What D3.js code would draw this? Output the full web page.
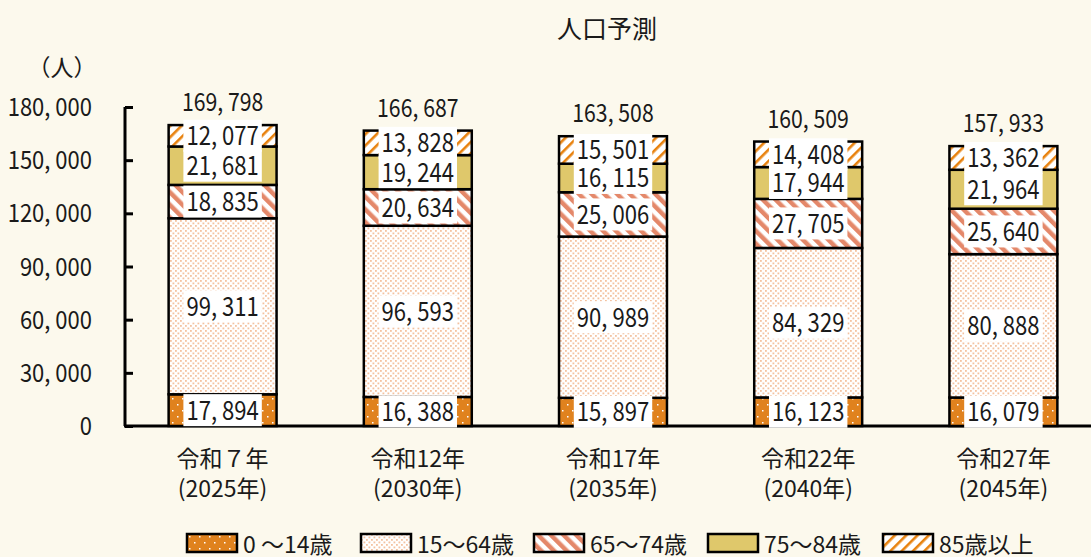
<html>
  <head>
    <meta charset="utf-8" />
    <script src="https://cdnjs.cloudflare.com/ajax/libs/d3/7.6.1/d3.min.js"></script>
    <style>
      body { margin: 0; background: #fcf9ed; }
      svg { display: block; }
      text { font-family: "Liberation Sans Narrow", "Noto Sans CJK JP", sans-serif; fill: #1a1a1a; }
    </style>
  </head>
  <body>
    <svg width="1091" height="557"></svg>
  </body>
  <script>
    // categories
    var years = ["令和７年", "令和12年", "令和17年", "令和22年", "令和27年"];
    var yearsAD = ["(2025年)", "(2030年)", "(2035年)", "(2040年)", "(2045年)"];
    var groups = ["0 ～14歳", "15～64歳", "65～74歳", "75～84歳", "85歳以上"];

    // series values (bottom to top)
    var age0_14 = [17894, 16388, 15897, 16123, 16079];
    var age15_64 = [99311, 96593, 90989, 84329, 80888];
    var age65_74 = [18835, 20634, 25006, 27705, 25640];
    var age75_84 = [21681, 19244, 16115, 17944, 21964];
    var age85 = [12077, 13828, 15501, 14408, 13362];
    var totals = [169798, 166687, 163508, 160509, 157933];

    var yTicks = [0, 30000, 60000, 90000, 120000, 150000, 180000];

    var series = [age0_14, age15_64, age65_74, age75_84, age85];
    var fills = ["url(#p0)", "url(#p1)", "url(#p2)", "#dfc86b", "url(#p4)"];

    var fmt = (v) => d3.format(",")(v).replace(/,/g, ", ");

    // squeeze numbers horizontally, the source font is very narrow
    function squeeze(sel, k) {
      sel.each(function () {
        var w = this.getComputedTextLength();
        d3.select(this).attr("textLength", w * k).attr("lengthAdjust", "spacingAndGlyphs");
      });
    }

    var svg = d3.select("svg");

    // patterns
    var defs = svg.append("defs");
    var p0 = defs.append("pattern").attr("id", "p0").attr("patternUnits", "userSpaceOnUse")
      .attr("width", 10).attr("height", 12);
    p0.append("rect").attr("width", 10).attr("height", 12).attr("fill", "#e0821e");
    p0.append("rect").attr("x", 2).attr("y", 2).attr("width", 1.5).attr("height", 1.5).attr("fill", "#fff");
    p0.append("rect").attr("x", 7).attr("y", 8).attr("width", 1.5).attr("height", 1.5).attr("fill", "#fff");

    var p1 = defs.append("pattern").attr("id", "p1").attr("patternUnits", "userSpaceOnUse")
      .attr("width", 5).attr("height", 5);
    p1.append("rect").attr("width", 5).attr("height", 5).attr("fill", "#fff");
    p1.append("rect").attr("x", 0).attr("y", 0).attr("width", 1.8).attr("height", 1.8).attr("fill", "#f4c2a0");
    p1.append("rect").attr("x", 2.5).attr("y", 2.5).attr("width", 1.8).attr("height", 1.8).attr("fill", "#f4c2a0");

    var p2 = defs.append("pattern").attr("id", "p2").attr("patternUnits", "userSpaceOnUse")
      .attr("width", 9).attr("height", 9).attr("patternTransform", "rotate(-45)");
    p2.append("rect").attr("width", 9).attr("height", 9).attr("fill", "#fff");
    p2.append("rect").attr("width", 4.5).attr("height", 9).attr("fill", "#e4886a");

    var p4 = defs.append("pattern").attr("id", "p4").attr("patternUnits", "userSpaceOnUse")
      .attr("width", 8).attr("height", 8).attr("patternTransform", "rotate(45)");
    p4.append("rect").attr("width", 8).attr("height", 8).attr("fill", "#fff");
    p4.append("rect").attr("width", 2.6).attr("height", 8).attr("fill", "#e8820e");

    var x = d3.scaleBand().domain(years).range([125, 1101])
      .paddingInner(0.447).paddingOuter(0.2235);
    var y = d3.scaleLinear().domain([0, 180000]).range([426, 107]);

    // title
    svg.append("text").attr("x", 607).attr("y", 38).attr("text-anchor", "middle")
      .style("font-size", "25px").style("font-family", "Noto Sans CJK JP").text("人口予測");
    svg.append("text").attr("x", 62).attr("y", 76).attr("text-anchor", "middle")
      .style("font-size", "23px").style("font-family", "Noto Sans CJK JP").text("（人）");

    // y axis
    var yAxis = d3.axisRight(y).tickValues(yTicks).tickSize(8).tickFormat("");
    var gy = svg.append("g").attr("transform", "translate(125,0)").call(yAxis);
    gy.select(".domain").attr("stroke", "#000").attr("stroke-width", 3).attr("d", "M0," + y(180000) + "V" + y(0));
    gy.selectAll(".tick line").attr("stroke", "#000").attr("stroke-width", 3);
    svg.append("g").selectAll("text").data(yTicks).enter().append("text")
      .attr("x", 92).attr("y", (d) => y(d)).attr("dy", "0.36em").attr("text-anchor", "end")
      .style("font-size", "25px").text(fmt).call(squeeze, 0.88);

    // x axis baseline
    svg.append("line").attr("x1", 124).attr("x2", 1091).attr("y1", y(0)).attr("y2", y(0))
      .attr("stroke", "#000").attr("stroke-width", 3);

    // stacked bars
    var rows = years.map((yr, i) => {
      var r = { year: yr };
      groups.forEach((g, j) => (r[g] = series[j][i]));
      return r;
    });
    var stack = d3.stack().keys(groups)(rows);

    var layers = svg.append("g").selectAll("g").data(stack).enter().append("g")
      .attr("fill", (d, i) => fills[i]);
    layers.selectAll("rect").data((d) => d).enter().append("rect")
      .attr("x", (d) => x(d.data.year))
      .attr("y", (d) => y(d[1]))
      .attr("width", x.bandwidth())
      .attr("height", (d) => y(d[0]) - y(d[1]))
      .attr("stroke", "#000").attr("stroke-width", 2.5);

    // value labels with white boxes
    var labels = svg.append("g");
    stack.forEach((layer) => {
      layer.forEach((d) => {
        var cx = x(d.data.year) + x.bandwidth() / 2;
        var cy = (y(d[0]) + y(d[1])) / 2;
        var g = labels.append("g");
        var t = g.append("text").attr("x", cx).attr("y", cy).attr("dy", "0.36em")
          .attr("text-anchor", "middle").style("font-size", "26px").text(fmt(d[1] - d[0]));
        t.call(squeeze, 0.85);
        var w = +t.attr("textLength");
        g.insert("rect", "text").attr("x", cx - w / 2 - 3).attr("y", cy - 16)
          .attr("width", w + 6).attr("height", 32).attr("fill", "#fff");
      });
    });

    // totals
    svg.append("g").selectAll("text").data(totals).enter().append("text")
      .attr("x", (d, i) => x(years[i]) + x.bandwidth() / 2)
      .attr("y", (d) => y(d) - 14)
      .attr("text-anchor", "middle").style("font-size", "25px").text(fmt).call(squeeze, 0.85);

    // category labels
    var xl = svg.append("g").selectAll("g").data(years).enter().append("g");
    xl.append("text").attr("x", (d) => x(d) + x.bandwidth() / 2).attr("y", 467)
      .attr("text-anchor", "middle").style("font-size", "23px").text((d) => d);
    xl.append("text").attr("x", (d) => x(d) + x.bandwidth() / 2).attr("y", 497)
      .attr("text-anchor", "middle").style("font-size", "23px").text((d, i) => yearsAD[i]);

    // legend
    var legX = [187, 361, 534, 708, 883];
    var leg = svg.append("g").selectAll("g").data(groups).enter().append("g")
      .attr("transform", (d, i) => "translate(" + legX[i] + ",534)");
    leg.append("rect").attr("width", 50).attr("height", 18)
      .attr("fill", (d, i) => fills[i]).attr("stroke", "#000").attr("stroke-width", 2.5);
    leg.append("text").attr("x", 56).attr("y", 19).style("font-size", "23px").text((d) => d);
  </script>
</html>
